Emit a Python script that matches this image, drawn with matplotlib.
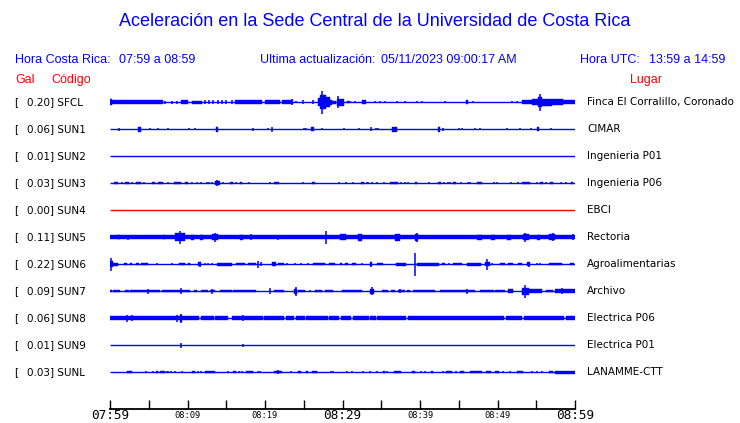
import matplotlib
matplotlib.use("Agg")
import matplotlib.pyplot as plt
from matplotlib.transforms import blended_transform_factory

BLUE = "#0000ff"
RED = "#ff0000"

# estaciones
codes = ["SFCL", "SUN1", "SUN2", "SUN3", "SUN4", "SUN5",
         "SUN6", "SUN7", "SUN8", "SUN9", "SUNL"]
gal = [0.20, 0.06, 0.01, 0.03, 0.00, 0.11, 0.22, 0.09, 0.06, 0.01, 0.03]
places = ["Finca El Corralillo, Coronado", "CIMAR", "Ingenieria P01",
          "Ingenieria P06", "EBCI", "Rectoria", "Agroalimentarias",
          "Archivo", "Electrica P06", "Electrica P01", "LANAMME-CTT"]
trace_colors = [BLUE, BLUE, BLUE, BLUE, RED, BLUE, BLUE, BLUE, BLUE, BLUE, BLUE]

# eje de tiempo (minutos desde 07:59)
time_ticks = [0, 5, 10, 15, 20, 25, 30, 35, 40, 45, 50, 55, 60]
time_labels = ["07:59", "", "08:09", "", "08:19", "", "08:29", "",
               "08:39", "", "08:49", "", "08:59"]
big_labels = ["07:59", "08:29", "08:59"]

# envolventes: (t_ini, t_fin[, amplitud]) y picos (t[, amplitud])
sfcl_segs = [(0.0, 0.3, 3.0), (0.3, 6.8), (9.2, 10.1), (10.6, 11.9, 1.5),
             (16.1, 19.6), (20.0, 21.9), (22.2, 23.6),
             (26.8, 27.1, 4.0), (27.1, 27.9, 7.0), (27.9, 28.4, 5.0), (28.4, 28.6, 2.5),
             (28.6, 29.2, 1.5), (29.3, 30.2, 3.5), (30.6, 30.8, 1.3), (32.5, 33.0),
             (45.9, 46.2), (53.2, 54.4, 2.0), (54.4, 55.2, 3.0), (55.2, 55.8, 5.0),
             (55.8, 57.0, 3.5), (57.0, 58.5, 2.8), (58.5, 60.0, 2.3)]
sfcl_pts = [(7.1, 1.5), (8.0, 1.5), (8.6, 1.5), 12.3, 12.8, 13.3, 13.9, 14.5, 15.0, 15.7,
            (23.5, 3.0), (24.0, 1.0), 24.9, 26.2, (27.35, 11.5), (29.4, 6.0),
            (31.0, 1.0), (31.6, 1.0), (34.2, 1.0), (34.8, 1.0), (35.5, 1.0), (37.0, 1.0),
            (38.1, 1.0), (39.6, 1.0), (40.3, 1.0), (43.2, 1.0), (46.8, 1.0), (51.9, 1.0),
            (52.5, 1.0), (55.5, 8.5)]

sun1_segs = [(3.6, 4.0, 2.5), (13.7, 13.9, 2.5), (25.9, 26.3, 2.0), (36.4, 37.0, 2.5),
             (42.3, 42.6, 2.5), (55.1, 55.4, 1.7)]
sun1_pts = [(1.2, 1.5), 5.2, 6.2, 7.5, 10.2, (11.0, 1.0), (18.5, 1.5), 20.4, (20.9, 2.5),
            25.0, 25.3, (27.4, 1.0), 30.2, (32.1, 1.0), (33.7, 2.0), 34.3, (34.6, 1.0),
            (43.0, 1.5), 45.0, 45.4, 47.1, (47.7, 1.0), 51.2, (52.9, 1.0), 54.3, 56.9]

sun2_segs = []
sun2_pts = []

sun3_segs = [(0.55, 0.99), (1.9, 2.4), (3.3, 4.0), (5.4, 5.8), (6.2, 6.9), (8.3, 9.2),
             (9.7, 10.1), (13.5, 14.2, 1.8), (15.5, 15.9), (16.8, 17.0), (21.2, 21.8),
             (26.1, 26.5), (32.4, 32.8), (36.1, 37.2), (39.3, 39.6), (42.3, 42.7),
             (44.3, 44.7), (47.3, 48.0), (53.1, 54.2), (55.5, 55.9), (56.8, 57.1),
             (59.5, 59.8)]
sun3_pts = [1.6, 2.8, 4.4, 7.5, 10.6, 11.2, 11.8, 12.5, 12.8, 13.1, (13.8, 2.8), 14.6,
            16.3, 17.9, 20.7, 24.9, 29.5, 30.5, 31.4, 33.1, 33.3, 33.8, 34.5, 35.3, 37.5,
            38.0, 38.4, 41.1, 43.1, 43.6, 43.9, 45.3, 46.2, 46.5, 49.5, 49.9, 51.7, 52.7,
            55.1, 56.3, 58.2, 58.8]

sun4_segs = []
sun4_pts = []

sun5_segs = [(0.0, 60.0), (0.86, 1.3, 2.0), (6.9, 7.1, 2.0), (8.4, 9.7, 4.0),
             (10.5, 10.9, 2.5), (11.6, 12.0, 2.5), (13.1, 14.0, 3.0), (16.8, 17.2, 2.5),
             (29.7, 30.5, 3.0), (32.0, 32.5, 3.5), (36.8, 37.4, 3.5), (39.4, 39.8, 3.5),
             (47.3, 48.0, 2.5), (49.2, 49.7, 2.5), (51.2, 51.8, 2.5), (53.3, 54.0, 3.0),
             (55.1, 55.5, 2.5), (56.6, 57.4, 3.0)]
sun5_pts = [(2.3, 2.5), (3.9, 2.3), 5.6, 6.2, (9.0, 6.5), (13.6, 4.5), (18.2, 3.0), 19.8,
            (21.7, 2.5), 22.8, 24.3, 25.4, (27.9, 6.5), 33.1, 33.8, 34.4, 35.7,
            (39.6, 4.5), 41.7, 42.6, 43.7, 44.3, 45.6, (53.6, 4.5), (57.1, 4.0), 58.1,
            (59.8, 3.0)]

sun6_segs = [(0.0, 0.43, 3.0), (0.43, 1.07, 1.5), (1.85, 2.15), (2.6, 2.9), (3.4, 3.8),
             (4.0, 4.9), (8.9, 9.7), (10.1, 10.3), (11.4, 11.8, 2.0), (13.8, 15.7, 1.5),
             (16.3, 17.4), (17.8, 18.9), (20.9, 21.4, 1.8), (21.7, 22.4), (26.2, 27.7),
             (28.2, 29.0), (29.7, 29.9), (30.3, 30.7), (31.2, 31.8), (33.5, 33.8, 2.0),
             (34.5, 35.2), (36.9, 38.2, 1.5), (39.6, 42.4, 1.5), (42.8, 43.2),
             (44.3, 45.4), (46.0, 47.9, 1.5), (48.4, 49.0, 2.0), (50.3, 51.0),
             (51.4, 52.0), (52.7, 53.1), (53.8, 54.2, 2.0), (56.6, 58.3), (59.4, 59.9)]
sun6_pts = [(0.13, 6.5), 6.0, 8.0, (11.6, 2.5), 12.3, 12.7, 13.1, (19.1, 3.5), (19.5, 2.0),
            22.8, 23.9, 24.7, 25.6, 32.5, (33.65, 2.5), (39.3, 11.5), 43.7, (48.7, 5.5),
            49.3, (54.0, 2.5), 55.1, 55.5]

sun7_segs = [(0.0, 0.2, 1.0), (0.4, 1.3), (1.9, 2.4), (2.6, 6.5), (6.7, 10.3), (10.9, 11.2),
             (11.8, 12.7), (12.9, 13.5), (14.2, 15.7), (15.9, 18.9), (21.1, 22.4),
             (23.7, 24.1, 2.5), (24.3, 25.2), (26.5, 27.3), (27.7, 28.8), (29.9, 32.5),
             (33.5, 34.0, 2.5), (35.1, 35.9), (36.3, 36.8), (37.2, 38.1), (38.3, 38.7),
             (39.1, 41.9), (42.6, 47.1), (47.7, 49.5), (49.7, 51.0), (51.4, 52.0, 2.0),
             (53.1, 54.0, 3.5), (54.0, 55.7, 1.8), (56.3, 57.2), (57.4, 60.0, 1.7)]
sun7_pts = [(4.9, 2.5), (9.2, 3.0), (13.2, 2.5), (20.6, 3.0), (24.0, 4.5), 25.8,
            (33.8, 4.0), (37.4, 2.0), (46.0, 2.5), (53.6, 6.5), (58.3, 3.0)]

sun8_segs = [(0.0, 11.5), (11.7, 13.4), (13.6, 15.2), (15.7, 17.1), (17.3, 19.7),
             (19.9, 22.5), (22.7, 23.8), (24.0, 25.1), (25.3, 28.1), (28.3, 29.6),
             (29.8, 31.1), (31.3, 33.4), (33.6, 34.3), (34.5, 38.2), (38.4, 50.9),
             (51.1, 53.2), (53.4, 58.6), (58.8, 60.0), (9.0, 9.3, 3.5)]
sun8_pts = [(2.2, 3.5), (2.8, 3.0), (8.6, 3.5), (9.1, 4.5), (17.2, 3.0)]

sun9_segs = []
sun9_pts = [(9.1, 2.5), (17.2, 1.5)]

sunl_segs = [(2.15, 2.9), (5.9, 6.2), (6.45, 7.1), (10.6, 11.0), (12.3, 13.6), (15.9, 16.3),
             (17.6, 18.5), (21.2, 22.2), (24.2, 24.6), (25.3, 25.5), (26.0, 26.7),
             (35.2, 35.5), (36.6, 37.5), (39.0, 39.3), (41.4, 41.7), (43.3, 44.1),
             (45.1, 45.7), (46.4, 48.0), (48.5, 49.2), (49.7, 50.2), (52.5, 53.3),
             (56.6, 57.2), (57.4, 60.0, 1.5)]
sunl_pts = [4.6, 5.5, 7.3, 7.5, 7.9, 8.4, 9.25, 11.3, 11.7, 15.2, 16.6, 17.0, 19.1, 19.4,
            (21.7, 2.0), 23.4, 28.5, 28.8, 30.6, 31.2, 32.6, 33.5, 34.5, 35.8, 40.1, 40.6,
            43.0, 44.6, 50.7, 51.6, 54.4, 55.1, 55.7]

all_segs = [sfcl_segs, sun1_segs, sun2_segs, sun3_segs, sun4_segs, sun5_segs,
            sun6_segs, sun7_segs, sun8_segs, sun9_segs, sunl_segs]
all_pts = [sfcl_pts, sun1_pts, sun2_pts, sun3_pts, sun4_pts, sun5_pts,
           sun6_pts, sun7_pts, sun8_pts, sun9_pts, sunl_pts]
default_amp = [1.7, 1.3, 1.3, 1.3, 1.3, 1.7, 1.3, 1.3, 2.2, 1.3, 1.3]

AMP = 1 / 27.0  # amplitud -> separacion entre trazas

fig = plt.figure(figsize=(7.4, 4.23), dpi=100)
W, H = 740.0, 423.0
ax = fig.add_axes([110 / W, 1 - 409 / H, 465 / W, (409 - 88) / H])
ax.set_xlim(0, 60)
ax.set_ylim(11.37, -0.52)

for i, code in enumerate(codes):
    c = trace_colors[i]
    ax.hlines(i, 0, 60, color=c, lw=1.0)
    x0, wd, bot, hgt = [], [], [], []
    for s in all_segs[i]:
        a = s[2] if len(s) > 2 else default_amp[i]
        x0.append(s[0])
        wd.append(s[1] - s[0])
        bot.append(i - a * AMP)
        hgt.append(2 * a * AMP)
    if x0:
        ax.bar(x0, hgt, width=wd, bottom=bot, align="edge", color=c,
               edgecolor=c, linewidth=0.3)
    xs, y0, y1 = [], [], []
    for p in all_pts[i]:
        t, a = (p if isinstance(p, tuple) else (p, default_amp[i]))
        xs.append(t)
        y0.append(i - a * AMP)
        y1.append(i + a * AMP)
    if xs:
        ax.vlines(xs, y0, y1, color=c, lw=1.1)

for side in ["top", "left", "right"]:
    ax.spines[side].set_visible(False)
ax.spines["bottom"].set_linewidth(1.3)
ax.set_yticks([])
ax.set_xticks(time_ticks)
ax.set_xticklabels(time_labels)
ax.tick_params(axis="x", direction="in", length=6.5, width=1.0, pad=5)
for lbl in ax.get_xticklabels():
    lbl.set_family("DejaVu Sans Mono")
    lbl.set_verticalalignment("center")
    lbl.set_fontsize(9.2 if lbl.get_text() in big_labels else 6.3)

# etiquetas de estaciones
tr = blended_transform_factory(fig.transFigure, ax.transData)
for i, code in enumerate(codes):
    ax.text(14 / W, i, "[", transform=tr, fontsize=7.5, va="center", ha="left")
    ax.text(27 / W, i, f"{gal[i]:.2f}] {code}", transform=tr, fontsize=7.5,
            va="center", ha="left")
    ax.text(587 / W, i, places[i], transform=tr, fontsize=7.5, va="center", ha="left")

# encabezado
hf = "Liberation Sans"
fig.text(375 / W, 1 - 22 / H, "Aceleración en la Sede Central de la Universidad de Costa Rica",
         color=BLUE, fontsize=13, family=hf, ha="center", va="center")
fig.text(15 / W, 1 - 60 / H, "Hora Costa Rica:", color=BLUE, fontsize=9, family=hf, va="center")
fig.text(119 / W, 1 - 60 / H, "07:59 a 08:59", color=BLUE, fontsize=9, family=hf, va="center")
fig.text(260 / W, 1 - 60 / H, "Ultima actualización:", color=BLUE, fontsize=9, family=hf, va="center")
fig.text(381 / W, 1 - 60 / H, "05/11/2023 09:00:17 AM", color=BLUE, fontsize=9, family=hf, va="center")
fig.text(580 / W, 1 - 60 / H, "Hora UTC:", color=BLUE, fontsize=9, family=hf, va="center")
fig.text(725 / W, 1 - 60 / H, "13:59 a 14:59", color=BLUE, fontsize=9, family=hf, va="center", ha="right")
fig.text(15 / W, 1 - 80 / H, "Gal", color=RED, fontsize=9, family=hf, va="center")
fig.text(51 / W, 1 - 80 / H, "Código", color=RED, fontsize=9, family=hf, va="center")
fig.text(662 / W, 1 - 80 / H, "Lugar", color=RED, fontsize=9, family=hf, va="center", ha="right")

fig.savefig("out.png", dpi=100)
plt.close(fig)
